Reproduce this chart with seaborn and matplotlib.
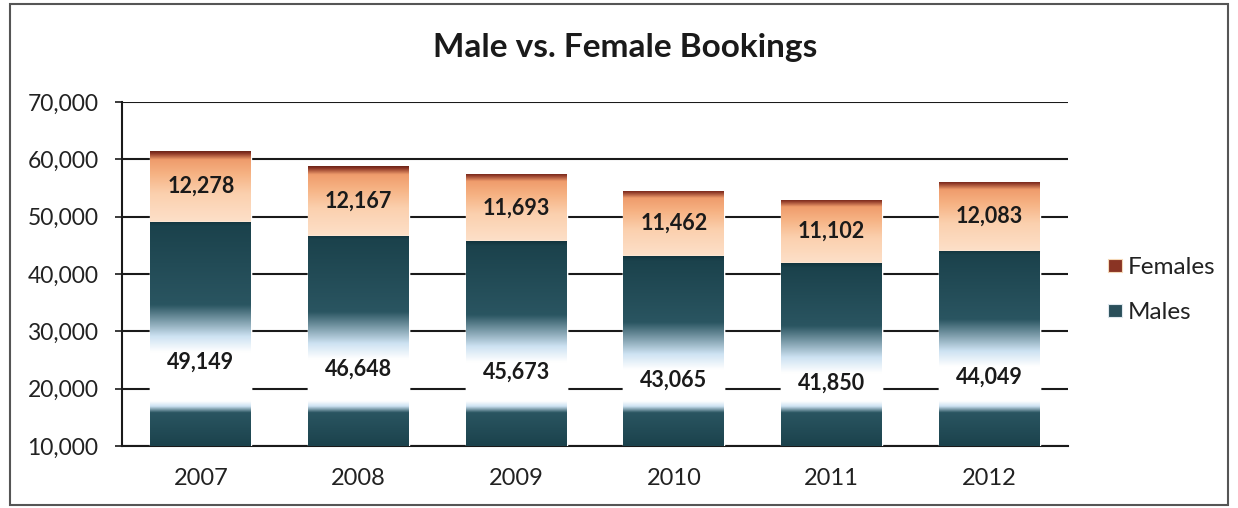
import numpy as np
import pandas as pd
import matplotlib
matplotlib.use("Agg")
import matplotlib.pyplot as plt
from matplotlib.colors import to_rgb
from matplotlib.patches import Patch, Rectangle
from matplotlib.ticker import FuncFormatter
import seaborn as sns

# Дані з графіка
years = ['2007', '2008', '2009', '2010', '2011', '2012']
males = [49149, 46648, 45673, 43065, 41850, 44049]
females = [12278, 12167, 11693, 11462, 11102, 12083]

Y_MIN, Y_MAX = 10000, 70000

DARK = '#1b424c'
MID = '#2a5561'
LIGHT = '#cde2f2'
WHITE = '#ffffff'


def gradient(stops_y, stops_c, y0, y1, n=500):
    """Вертикальний градієнт (n x 1 x 3) між y0 та y1."""
    ys = np.linspace(y0, y1, n)
    cols = np.array([to_rgb(c) for c in stops_c])
    img = np.stack([np.interp(ys, stops_y, cols[:, k]) for k in range(3)], axis=-1)
    return img[:, None, :]


df = pd.DataFrame({'year': years, 'males': males, 'females': females})
df['total'] = df['males'] + df['females']

sns.set_style('white')
plt.rcParams['font.family'] = ['Lato', 'DejaVu Sans']

fig = plt.figure(figsize=(12.38, 5.08), dpi=100)
ax = fig.add_axes([122 / 1238, 62 / 508, 946 / 1238, 344 / 508])

sns.barplot(data=df, x='year', y='total', color='#f5b07f', saturation=1,
            width=0.64, errorbar=None, ax=ax, zorder=2)
sns.barplot(data=df, x='year', y='males', color=DARK, saturation=1,
            width=0.64, errorbar=None, ax=ax, zorder=3)

total_bars = ax.patches[:6]
male_bars = ax.patches[6:12]

for i, (tb, mb) in enumerate(zip(total_bars, male_bars)):
    x0, w = tb.get_x(), tb.get_width()
    m = df['males'][i]
    t = df['total'][i]
    h = t - m

    # Жінки: персиковий знизу, помаранчевий, темно-червоний зверху
    f_img = gradient([m, m + 0.4 * h, m + 0.68 * h, m + 0.88 * h, t - 0.03 * h, t],
                     ['#fde0c9', '#fbd0ae', '#f6b283', '#ef9c6c', '#8a3424', '#6a2418'],
                     m, t)
    im = ax.imshow(f_img, extent=[x0, x0 + w, m, t], origin='lower',
                   aspect='auto', interpolation='bilinear', zorder=2.5)
    im.set_clip_path(tb)

    # Чоловіки: темний зверху, світлий посередині, темний знизу
    lab = m / 2
    m_img = gradient([Y_MIN, 15800, 16900, 17800, lab + 1800, lab + 4500, lab + 10000, m - 800, m],
                     [DARK, MID, LIGHT, WHITE, WHITE, LIGHT, MID, DARK, '#12343d'],
                     Y_MIN, m)
    im = ax.imshow(m_img, extent=[x0, x0 + w, Y_MIN, m], origin='lower',
                   aspect='auto', interpolation='bilinear', zorder=3.5)
    im.set_clip_path(mb)

    ax.text(i, lab, f'{m:,}', ha='center', va='center', fontsize=15.5,
            fontweight='bold', color='#1a1a1a', zorder=5)
    ax.text(i, m + h / 2, f'{females[i]:,}', ha='center', va='center',
            fontsize=15.5, fontweight='bold', color='#1a1a1a', zorder=5)

ax.set_xlim(-0.5, 5.5)
ax.set_ylim(Y_MIN, Y_MAX)
ax.set_yticks(range(Y_MIN, Y_MAX + 1, 10000))
ax.yaxis.set_major_formatter(FuncFormatter(lambda v, p: f'{v:,.0f}'))
ax.set_axisbelow(True)
ax.yaxis.grid(True, color='#1a1a1a', linewidth=1.5)
ax.xaxis.grid(False)
ax.set_xlabel('')
ax.set_ylabel('')

for side in ['top', 'right']:
    ax.spines[side].set_visible(False)
for side in ['left', 'bottom']:
    ax.spines[side].set_color('#1a1a1a')
    ax.spines[side].set_linewidth(1.5)

ax.tick_params(axis='y', left=True, length=5, width=1.2, color='#1a1a1a',
               labelsize=16.5, labelcolor='#222222', pad=12)
ax.tick_params(axis='x', bottom=False, labelsize=17, labelcolor='#222222', pad=12)

fig.text(625 / 1238, 1 - 48 / 508, 'Male vs. Female Bookings', ha='center',
         va='center', fontsize=24, fontweight='bold', color='#1a1a1a')

handles = [Patch(facecolor='#8a3424', edgecolor='#f5d9b8', linewidth=0.8),
           Patch(facecolor='#2a4f5a', edgecolor='#dfe8ee', linewidth=0.8)]
fig.legend(handles, ['Females', 'Males'], loc='center left',
           bbox_to_anchor=(1086 / 1238, 1 - 290 / 508), frameon=False,
           fontsize=17.5, handlelength=0.6, handleheight=0.45, handletextpad=0.2,
           labelspacing=1.0, labelcolor='#222222')

# Рамка навколо діаграми
fig.patches.append(Rectangle((0.008, 0.006), 0.984, 0.986, transform=fig.transFigure,
                             fill=False, edgecolor='#555555', linewidth=1.5))

fig.savefig('out.png', dpi=100)
